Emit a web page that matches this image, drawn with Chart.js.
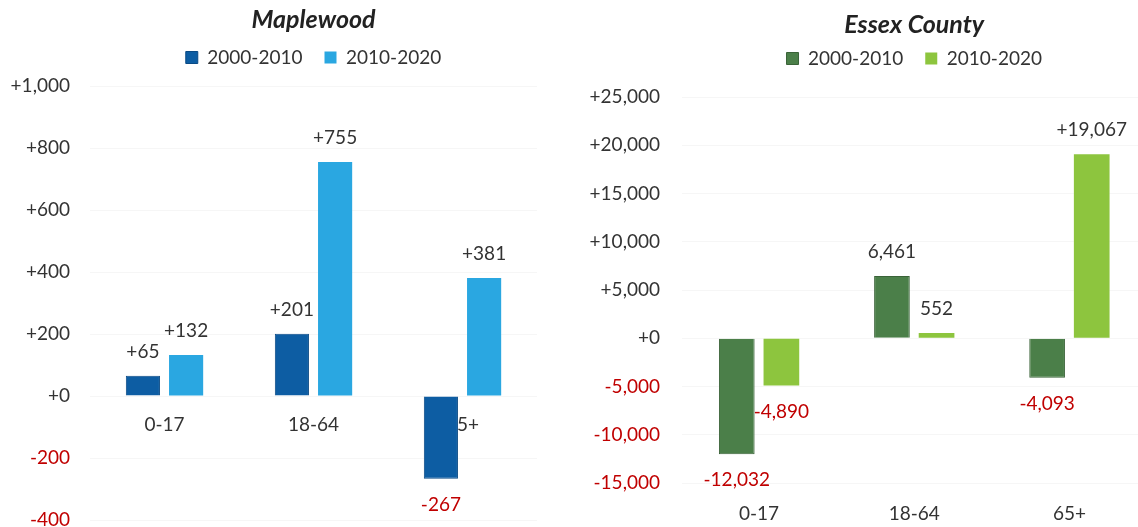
<!DOCTYPE html>
<html>
<head>
<meta charset="utf-8">
<script src="https://cdn.jsdelivr.net/npm/chart.js@4.4.1/dist/chart.umd.min.js"></script>
<style>
body{margin:0;background:#fff;overflow:hidden;}
#wrap{position:relative;width:1138px;height:527px;overflow:hidden;}
.box{position:absolute;top:0;height:527px;}
#left{left:0;width:570px;}
#right{left:570px;width:577px;}
</style>
</head>
<body>
<div id="wrap">
<div class="box" id="left"><canvas id="maplewoodChart"></canvas></div>
<div class="box" id="right"><canvas id="essexChart"></canvas></div>
</div>
<script>
let ageGroups = ["0-17","18-64","65+"]
let periods = ["2000-2010","2010-2020"]
let maplewood2000 = [65,201,-267]
let maplewood2010 = [132,755,381]
let essex2000 = [-12032,6461,-4093]
let essex2010 = [-4890,552,19067]
// printed labels for the county bars (only the big 65+ jump carries a plus sign)
let essexText2000 = ["-12,032","6,461","-4,093"]
let essexText2010 = ["-4,890","552","+19,067"]

Chart.defaults.font.family = "Lato, 'Open Sans', sans-serif"
Chart.defaults.animation = false

const RED = "#c00000"
const INK = "#333333"

function signed(v){
return (v >= 0 ? "+" : "") + v.toLocaleString("en-US")
}

// numbers above / below each bar
const valueLabels = {
id:"valueLabels",
afterDatasetsDraw(chart,args,opts){
let ctx = chart.ctx
ctx.save()
ctx.font = "19px " + Chart.defaults.font.family
ctx.textAlign = "center"
ctx.textBaseline = "middle"
chart.data.datasets.forEach((ds,i)=>{
chart.getDatasetMeta(i).data.forEach((bar,j)=>{
let v = ds.data[j]
let text = opts.text ? opts.text[i][j] : signed(v)
ctx.fillStyle = v < 0 ? RED : INK
ctx.fillText(text, bar.x, v < 0 ? bar.y + 26 : bar.y - 24)
})
})
ctx.restore()
}
}

// age group names sitting just under the zero line (drawn before the bars)
const zeroCategoryLabels = {
id:"zeroCategoryLabels",
beforeDatasetsDraw(chart,args,opts){
if(!opts.show) return
let ctx = chart.ctx
let x = chart.scales.x
let y0 = chart.scales.y.getPixelForValue(0)
ctx.save()
ctx.font = "19px " + Chart.defaults.font.family
ctx.fillStyle = INK
ctx.textAlign = "center"
ctx.textBaseline = "middle"
chart.data.labels.forEach((lab,j)=>{
ctx.fillText(lab, x.getPixelForValue(j), y0 + 29)
})
ctx.restore()
}
}

function yAxis(min,max,step,width,pad){
return {
min:min,
max:max,
ticks:{
stepSize:step,
padding:pad,
font:{size:19},
color:(c)=> c.tick.value < 0 ? RED : INK,
callback:(v)=>signed(v)
},
grid:{color:"rgba(0,0,0,0.035)",drawTicks:false},
border:{display:false},
afterFit:(s)=>{
s.width = width
// end labels may hang over the plot edges
s.paddingTop = 0
s.paddingBottom = 0
}
}
}

function titleOpts(text,top,bottom){
return {
display:true,
text:text,
fullSize:false,
color:"#222",
font:{size:25,weight:"bold",style:"italic"},
padding:{top:top,bottom:bottom}
}
}

// empty subtitle used as a gap between the legend and the plot
function gapBelowLegend(h){
return {
display:true,
text:"",
weight:500,
fullSize:false,
font:{size:1,lineHeight:1},
padding:{top:0,bottom:h-1}
}
}

const legendOpts = {
fullSize:false,
labels:{boxWidth:12,boxHeight:12,padding:22,color:INK,font:{size:19}}
}

new Chart(document.getElementById("maplewoodChart"),{
type:"bar",
data:{
labels:ageGroups,
datasets:[{
label:periods[0],
data:maplewood2000,
backgroundColor:"#0d5da3",
borderColor:"#0a4a85",
borderWidth:1,
categoryPercentage:0.58,
barPercentage:0.79
},{
label:periods[1],
data:maplewood2010,
backgroundColor:"#2aa7e1",
categoryPercentage:0.58,
barPercentage:0.79
}]
},
options:{
responsive:true,
maintainAspectRatio:false,
layout:{padding:{left:0,right:33,top:0,bottom:7}},
scales:{
x:{display:false},
y:yAxis(-400,1000,200,90,20)
},
plugins:{
title:titleOpts("Maplewood",5,-9),
subtitle:gapBelowLegend(9),
legend:legendOpts,
tooltip:{enabled:false},
zeroCategoryLabels:{show:true},
valueLabels:{}
}
},
plugins:[valueLabels,zeroCategoryLabels]
})

new Chart(document.getElementById("essexChart"),{
type:"bar",
data:{
labels:ageGroups,
datasets:[{
label:periods[0],
data:essex2000,
backgroundColor:"#4b7f49",
borderColor:"#3a6338",
borderWidth:1,
categoryPercentage:0.575,
barPercentage:0.8
},{
label:periods[1],
data:essex2010,
backgroundColor:"#8dc53e",
categoryPercentage:0.575,
barPercentage:0.8
}]
},
options:{
responsive:true,
maintainAspectRatio:false,
layout:{padding:{left:0,right:0,top:0,bottom:4}},
scales:{
x:{
ticks:{font:{size:19},color:INK,padding:19},
grid:{display:false,drawTicks:false},
border:{display:false},
afterFit:(s)=>{ s.height = 40 }
},
y:yAxis(-15000,25000,5000,111.5,21.5)
},
plugins:{
title:titleOpts("Essex County",10,-13),
subtitle:gapBelowLegend(19),
legend:legendOpts,
tooltip:{enabled:false},
zeroCategoryLabels:{show:false},
valueLabels:{text:[essexText2000,essexText2010]}
}
},
plugins:[valueLabels,zeroCategoryLabels]
})
</script>
</body>
</html>
